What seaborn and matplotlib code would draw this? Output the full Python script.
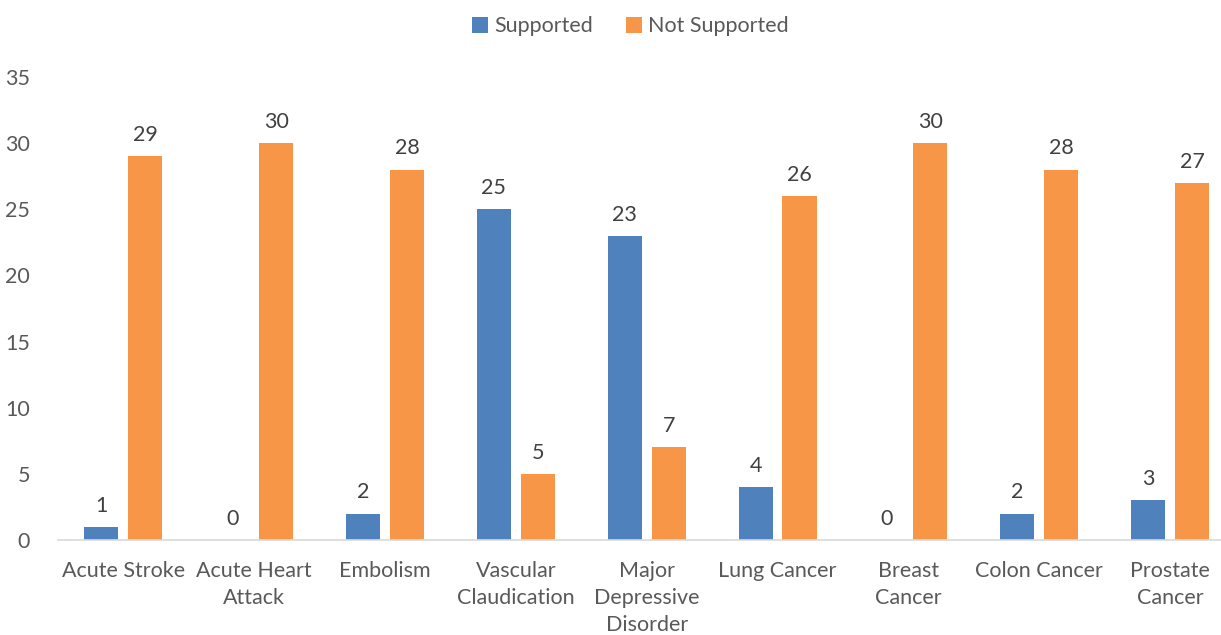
import matplotlib
matplotlib.use("Agg")
import matplotlib.pyplot as plt
import seaborn as sns
import pandas as pd

categories = ["Acute Stroke", "Acute Heart\nAttack", "Embolism", "Vascular\nClaudication",
              "Major\nDepressive\nDisorder", "Lung Cancer", "Breast\nCancer", "Colon Cancer",
              "Prostate\nCancer"]
supported = [1, 0, 2, 25, 23, 4, 0, 2, 3]
not_supported = [29, 30, 28, 5, 7, 26, 30, 28, 27]
series = ["Supported", "Not Supported"]
colors = ["#4F81BD", "#F79646"]
yticks = [0, 5, 10, 15, 20, 25, 30, 35]

df = pd.DataFrame({
    "category": categories * 2,
    "series": [series[0]] * len(categories) + [series[1]] * len(categories),
    "value": supported + not_supported,
})

sns.set_theme(style="white")
plt.rcParams["font.family"] = ["Lato", "DejaVu Sans"]
text_color = "#595959"
fs = 15.5

fig = plt.figure(figsize=(12.21, 6.35), dpi=100)
W, H = 1221, 635
left_px, right_px, top_px, bottom_px = 58, 1221, 77, 540
ax = fig.add_axes([left_px / W, (H - bottom_px) / H, (right_px - left_px) / W, (bottom_px - top_px) / H])

sns.barplot(data=df, x="category", y="value", hue="series", order=categories,
            hue_order=series, palette=colors, width=0.672, gap=0.226,
            saturation=1, legend=True, ax=ax, edgecolor="none")

for cont in ax.containers:
    ax.bar_label(cont, padding=8, fontsize=fs, color="#404040")

ax.set_xlim(-0.5, 8.39)
ax.set_ylim(0, 35)
ax.set_yticks(yticks)
ax.set_xlabel("")
ax.set_ylabel("")
for s in ["top", "right", "left"]:
    ax.spines[s].set_visible(False)
ax.spines["bottom"].set_color("#D9D9D9")
ax.spines["bottom"].set_linewidth(1.2)
ax.tick_params(axis="both", length=0, labelsize=fs, labelcolor=text_color)
ax.tick_params(axis="y", pad=20)
ax.tick_params(axis="x", pad=15)
for lab in ax.get_xticklabels():
    lab.set_linespacing(1.45)

leg = ax.legend(loc="upper center", bbox_to_anchor=(0.5 - (left_px / W) * 0.5 + 0.04, (H + 3) / H),
                bbox_transform=fig.transFigure, ncol=2, frameon=False, fontsize=fs,
                handlelength=0.75, handleheight=0.75, handletextpad=0.3, columnspacing=1.5)
for t in leg.get_texts():
    t.set_color(text_color)

fig.savefig("out.png", dpi=100)
